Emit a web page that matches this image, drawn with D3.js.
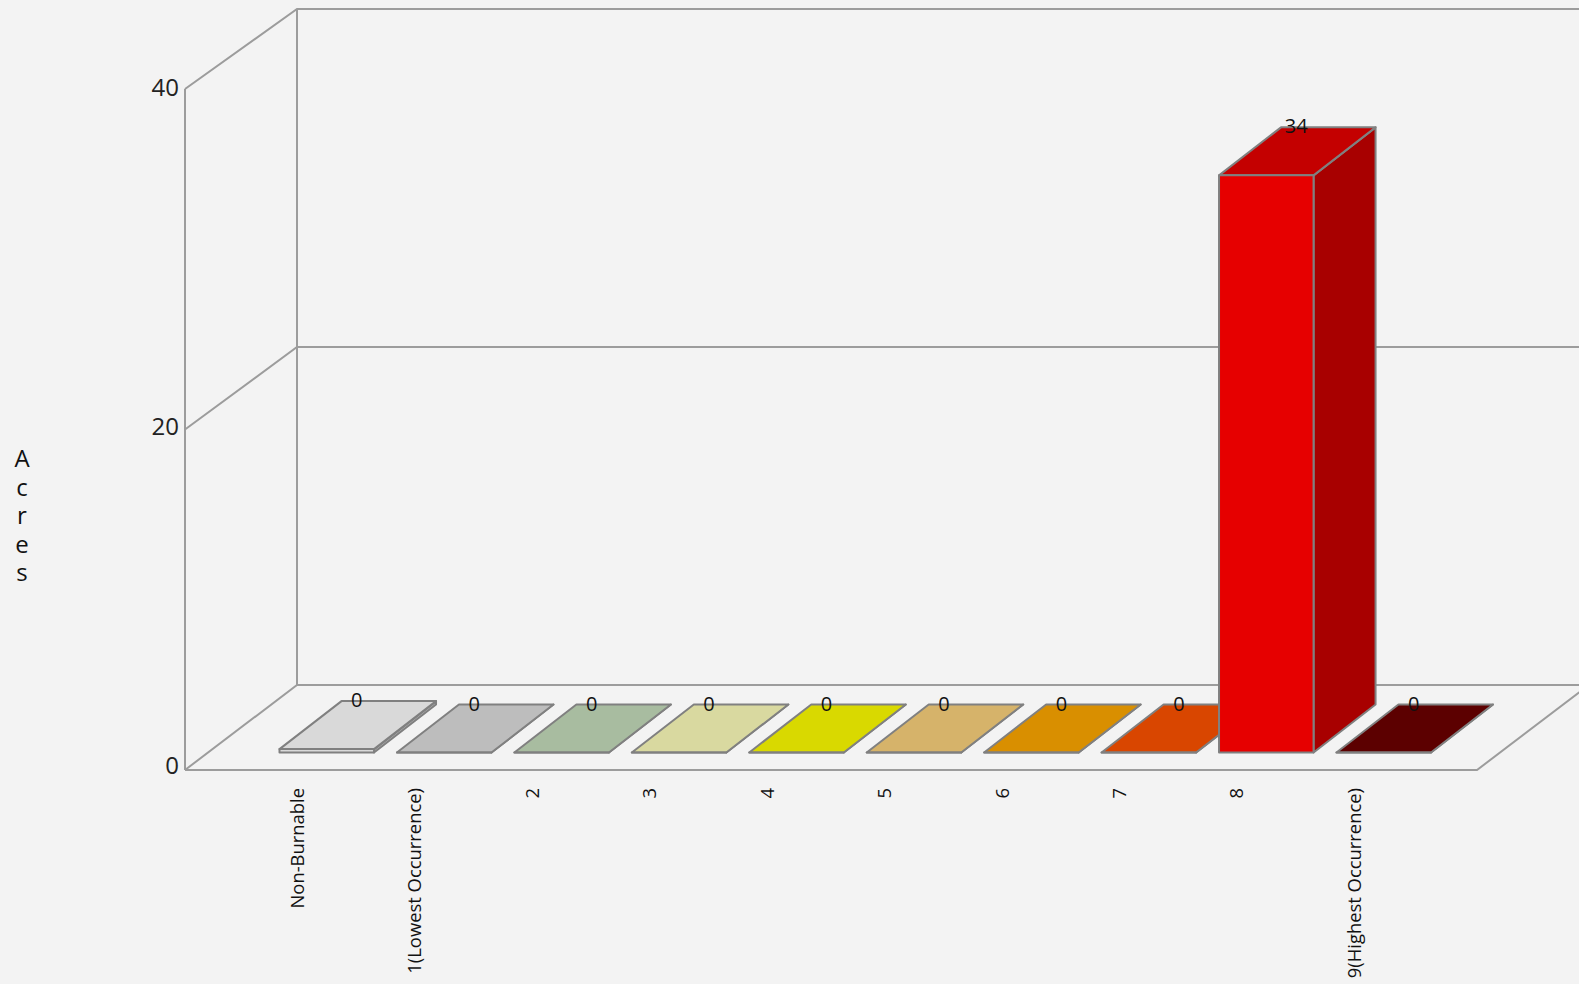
<!DOCTYPE html>
<html>
<head>
<meta charset="utf-8">
<title>Acres by occurrence class</title>
<script src="https://cdnjs.cloudflare.com/ajax/libs/d3/7.8.5/d3.min.js"></script>
<style>
  html, body { margin: 0; padding: 0; background: #f3f3f3; overflow: hidden; }
  svg { display: block; font-family: "Open Sans", "Noto Sans", sans-serif; }
  .wall { fill: none; stroke: #9c9c9c; stroke-width: 2; }
  .bar path { stroke: #808080; stroke-width: 2; stroke-linejoin: round; }
  .axis-title { writing-mode: vertical-rl; text-orientation: upright; letter-spacing: -4.4px; }
</style>
</head>
<body>
<svg id="chart" width="1579" height="984"></svg>
<script>
// Chart data
const categories = ["Non-Burnable", "1(Lowest Occurrence)", "2", "3", "4", "5", "6", "7", "8", "9(Highest Occurrence)"];
const acres = [0.2, 0, 0, 0, 0, 0, 0, 0, 34, 0];
const topColors = ["#d9d9d9", "#bdbdbd", "#a8bca0", "#d9d9a0", "#d9d900", "#d6b36a", "#d98f00", "#d94600", "#c40000", "#5c0000"];
const frontColors = ["#d9d9d9", "#bdbdbd", "#a8bca0", "#d9d9a0", "#d9d900", "#d6b36a", "#d98f00", "#d94600", "#e60000", "#5c0000"];
const sideColors = ["#b0b0b0", "#989898", "#869680", "#aeae80", "#aeae00", "#ab8f55", "#ae7200", "#ae3800", "#a80000", "#4a0000"];
const yTicks = [0, 20, 40];

const svg = d3.select("#chart");

// Plot frame: front plane on the left, back wall offset up and to the right
const frontLeft = 185, frontRight = 1477, backLeft = 297;
const barDepthX = 62, barDepthY = -48;

const yFront = d3.scaleLinear().domain([0, 40]).range([770, 89]);
const yBack = d3.scaleLinear().domain([0, 40]).range([685, 9]);
const yLabel = d3.scaleLinear().domain([0, 40]).range([766, 88]);
const yBar = d3.scaleLinear().domain([0, 40]).range([0, 679]);
const x = d3.scaleBand().domain(categories).range([279.5, 1431]).paddingInner(0.195);
const baseY = 752.5;   // bars stand between the back wall and the floor's front edge

const line = d3.line();
const walls = svg.append("g").attr("class", "wall");

// Gridlines wrap from the left wall along the back wall
yTicks.forEach(t => {
  walls.append("path").attr("d", line([
    [frontLeft, yFront(t)],
    [backLeft, yBack(t)],
    [1579, yBack(t)]
  ]));
});
walls.append("path").attr("d", line([[frontLeft, yFront(0)], [frontLeft, yFront(40)]]));
walls.append("path").attr("d", line([[backLeft, yBack(0)], [backLeft, yBack(40)]]));
walls.append("path").attr("d", line([
  [frontLeft, yFront(0)],
  [frontRight, yFront(0)],
  [frontRight + (backLeft - frontLeft), yBack(0)]
]));

// Extruded bars, each from its own value
const rows = categories.map((c, i) => ({ c, i, v: acres[i] }));
const bars = svg.append("g").selectAll("g")
  .data(rows)
  .join("g").attr("class", "bar");

const geom = d => {
  const l = x(d.c), r = l + x.bandwidth();
  return { l, r, t: baseY - yBar(d.v), b: baseY };
};

bars.append("path")
  .attr("fill", d => sideColors[d.i])
  .attr("d", d => {
    const g = geom(d);
    return line([[g.r, g.b], [g.r + barDepthX, g.b + barDepthY], [g.r + barDepthX, g.t + barDepthY], [g.r, g.t]]) + "Z";
  });
bars.append("path")
  .attr("fill", d => topColors[d.i])
  .attr("d", d => {
    const g = geom(d);
    return line([[g.l, g.t], [g.l + barDepthX, g.t + barDepthY], [g.r + barDepthX, g.t + barDepthY], [g.r, g.t]]) + "Z";
  });
bars.append("path")
  .attr("fill", d => frontColors[d.i])
  .attr("d", d => {
    const g = geom(d);
    return line([[g.l, g.t], [g.r, g.t], [g.r, g.b], [g.l, g.b]]) + "Z";
  });

// Value labels on the rear edge of each bar top
const fmt = d3.format(".0f");
svg.append("g").selectAll("text")
  .data(rows)
  .join("text")
  .attr("x", d => x(d.c) + x.bandwidth() / 2 + barDepthX / 2 - 1)
  .attr("y", d => geom(d).t + barDepthY)
  .attr("dy", "0.3em")
  .attr("text-anchor", "middle")
  .attr("font-size", 20)
  .attr("fill", "#111")
  .text(d => fmt(d.v));

// Value axis
const yAxis = d3.axisLeft(yLabel).tickValues(yTicks).tickSize(0).tickPadding(6);
const yAxisG = svg.append("g").attr("transform", `translate(${frontLeft},0)`).call(yAxis);
yAxisG.select(".domain").remove();
yAxisG.selectAll("text").attr("font-size", 24).attr("font-family", "'Open Sans', sans-serif").attr("fill", "#222");

// Axis title, set upright down the left edge
svg.append("text")
  .attr("class", "axis-title")
  .attr("x", 22)
  .attr("y", 441)
  .attr("font-size", 24)
  .attr("fill", "#111")
  .text("Acres");

// Rotated category labels
svg.append("g").selectAll("text")
  .data(categories)
  .join("text")
  .attr("transform", d => `translate(${x(d) + 18},788) rotate(-90)`)
  .attr("dy", "0.35em")
  .attr("text-anchor", "end")
  .attr("font-size", 18.4)
  .attr("fill", "#111")
  .text(d => d);
</script>
</body>
</html>
